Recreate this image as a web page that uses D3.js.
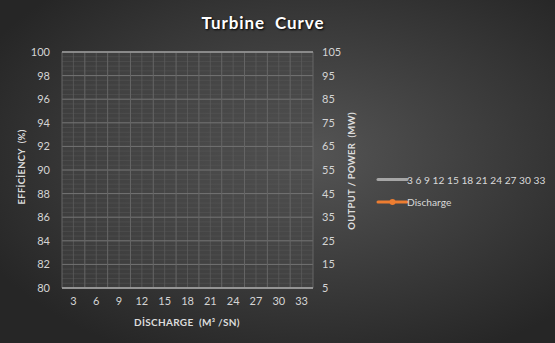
<!DOCTYPE html>
<html lang="en">
<head>
  <meta charset="UTF-8">
  <title>Turbine Curve</title>
  <script src="https://d3js.org/d3.v7.min.js"></script>
  <style>
    html, body { margin: 0; padding: 0; background: #2b2b2b; }
    svg { display: block; font-family: Lato, "Open Sans", sans-serif; }
  </style>
</head>
<body>
  <div id="chart"></div>

  <script>
    // chart data
    const categories = [3, 6, 9, 12, 15, 18, 21, 24, 27, 30, 33];
    const efficiencyTicks = [80, 82, 84, 86, 88, 90, 92, 94, 96, 98, 100];
    const powerTicks = [5, 15, 25, 35, 45, 55, 65, 75, 85, 95, 105];
    const seriesNames = ['3 6 9 12 15 18 21 24 27 30 33', 'Discharge'];
    const seriesColors = ['#a6a6a6', '#ed7d31'];

    const width = 555;
    const height = 343;
    const plot = { left: 62, right: 313, top: 52, bottom: 288 };

    const svg = d3.select('#chart')
      .append('svg')
      .attr('width', width)
      .attr('height', height);

    // background
    const defs = svg.append('defs');
    const grad = defs.append('radialGradient')
      .attr('id', 'bg')
      .attr('cx', '55%').attr('cy', '45%').attr('r', '65%');
    grad.append('stop').attr('offset', '0%').attr('stop-color', '#555555');
    grad.append('stop').attr('offset', '100%').attr('stop-color', '#262626');
    svg.append('rect').attr('width', width).attr('height', height).attr('fill', 'url(#bg)');

    const x = d3.scaleBand(categories, [plot.left, plot.right]);
    const yLeft = d3.scaleLinear([80, 100], [plot.bottom, plot.top]);
    const yRight = d3.scaleLinear([5, 105], [plot.bottom, plot.top]);

    // plot area
    svg.append('rect')
      .attr('x', plot.left).attr('y', plot.top)
      .attr('width', plot.right - plot.left).attr('height', plot.bottom - plot.top)
      .attr('fill', '#4a4a4a').attr('opacity', 0.5);

    // minor grid
    const minorY = d3.range(80, 100.01, 0.4);
    svg.append('g').selectAll('line')
      .data(minorY)
      .join('line')
      .attr('x1', plot.left).attr('x2', plot.right)
      .attr('y1', d => yLeft(d)).attr('y2', d => yLeft(d))
      .attr('stroke', '#585858').attr('stroke-width', 0.5);

    svg.append('g').selectAll('line')
      .data(categories)
      .join('line')
      .attr('x1', d => x(d) + x.bandwidth() / 2).attr('x2', d => x(d) + x.bandwidth() / 2)
      .attr('y1', plot.top).attr('y2', plot.bottom)
      .attr('stroke', '#5f5f5f').attr('stroke-width', 0.7);

    // major grid
    svg.append('g').selectAll('line')
      .data(efficiencyTicks)
      .join('line')
      .attr('x1', plot.left).attr('x2', plot.right)
      .attr('y1', d => yLeft(d)).attr('y2', d => yLeft(d))
      .attr('stroke', '#737373').attr('stroke-width', 1);

    svg.append('g').selectAll('line')
      .data(categories.concat(['end']))
      .join('line')
      .attr('x1', d => d === 'end' ? plot.right : x(d))
      .attr('x2', d => d === 'end' ? plot.right : x(d))
      .attr('y1', plot.top).attr('y2', plot.bottom)
      .attr('stroke', '#666666').attr('stroke-width', 1);

    // top + bottom lines
    svg.append('line')
      .attr('x1', plot.left).attr('x2', plot.right)
      .attr('y1', plot.top).attr('y2', plot.top)
      .attr('stroke', '#9a9a9a').attr('stroke-width', 1.5);
    svg.append('line')
      .attr('x1', plot.left).attr('x2', plot.right)
      .attr('y1', plot.bottom).attr('y2', plot.bottom)
      .attr('stroke', '#a8a8a8').attr('stroke-width', 1.5);

    // axes
    const axisColor = '#d4d4d4';
    const styleAxis = g => {
      g.select('.domain').remove();
      g.selectAll('.tick line').remove();
      g.selectAll('.tick text')
        .attr('fill', axisColor)
        .style('font-size', '11px')
        .style('font-family', 'Lato, "Open Sans", sans-serif');
    };

    svg.append('g')
      .attr('transform', `translate(${plot.left - 12},0)`)
      .call(d3.axisLeft(yLeft).tickValues(efficiencyTicks).tickSize(0).tickPadding(0))
      .call(styleAxis);

    svg.append('g')
      .attr('transform', `translate(${plot.right + 9},0)`)
      .call(d3.axisRight(yRight).tickValues(powerTicks).tickSize(0).tickPadding(0))
      .call(styleAxis);

    svg.append('g')
      .attr('transform', `translate(0,${plot.bottom + 9})`)
      .call(d3.axisBottom(x).tickSize(0).tickPadding(0))
      .call(styleAxis);

    // title
    svg.append('text')
      .attr('x', 263).attr('y', 29)
      .attr('text-anchor', 'middle')
      .attr('fill', '#ffffff')
      .style('font-size', '17px')
      .style('font-weight', 'bold')
      .style('letter-spacing', '0.9px')
      .style('white-space', 'pre')
      .style('text-shadow', '1px 1px 2px #000')
      .text('Turbine  Curve');

    // axis titles
    const titleStyle = sel => sel
      .attr('text-anchor', 'middle')
      .attr('fill', '#dcdcdc')
      .style('font-size', '9.5px')
      .style('font-weight', 'bold')
      .style('letter-spacing', '0.3px')
      .style('white-space', 'pre');

    svg.append('text')
      .attr('transform', 'translate(25,167) rotate(-90)')
      .call(titleStyle)
      .text('EFFİCİENCY  (%)');

    svg.append('text')
      .attr('transform', 'translate(355,171) rotate(-90)')
      .call(titleStyle)
      .text('OUTPUT / POWER  (MW)');

    svg.append('text')
      .attr('x', 187).attr('y', 326)
      .call(titleStyle)
      .style('font-size', '10px')
      .text('DİSCHARGE  (M³ /SN)');

    // legend
    const legend = svg.append('g')
      .selectAll('g')
      .data(seriesNames)
      .join('g')
      .attr('transform', (d, i) => `translate(378,${179.5 + i * 22.5})`);

    legend.append('line')
      .attr('x1', 0).attr('x2', 29)
      .attr('stroke', (d, i) => seriesColors[i])
      .attr('stroke-width', 3)
      .attr('stroke-linecap', 'round');

    legend.filter((d, i) => i === 1)
      .append('circle')
      .attr('cx', 14.5).attr('r', 3)
      .attr('fill', seriesColors[1]);

    legend.append('text')
      .attr('x', 29).attr('y', 4)
      .attr('fill', '#d9d9d9')
      .style('font-size', '10.2px')
      .text(d => d);
  </script>
</body>
</html>
